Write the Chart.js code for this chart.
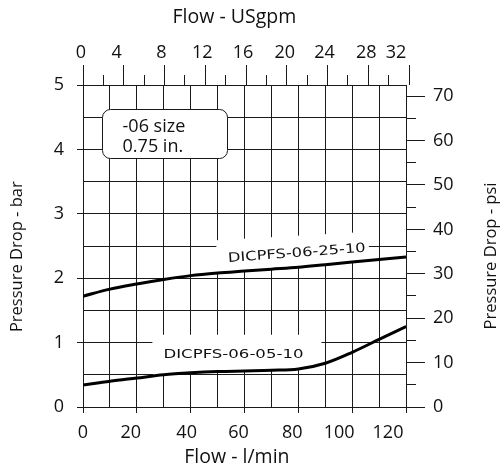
<!DOCTYPE html>
<html>
<head>
<meta charset="utf-8">
<script src="https://cdn.jsdelivr.net/npm/chart.js@4.4.1/dist/chart.umd.min.js"></script>
<style>
html,body{margin:0;padding:0;background:#fff;overflow:hidden}
#wrap{width:503px;height:471px;position:relative}
</style>
</head>
<body>
<div id="wrap"><canvas id="c" width="503" height="471"></canvas></div>
<script>
// ---- data ----
const flowLpm = [0, 10, 20, 30, 40, 50, 60, 70, 80, 90, 100, 110, 120];
const dp25 = [1.72, 1.83, 1.91, 1.98, 2.04, 2.08, 2.11, 2.14, 2.17, 2.21, 2.25, 2.29, 2.33];
const dp05 = [0.34, 0.40, 0.45, 0.50, 0.53, 0.55, 0.56, 0.57, 0.59, 0.68, 0.85, 1.05, 1.25];
const seriesNames = ['DICPFS-06-25-10', 'DICPFS-06-05-10'];
const barTicks = [0, 1, 2, 3, 4, 5];
const psiTicks = [0, 10, 20, 30, 40, 50, 60, 70];
const lpmTicks = [0, 20, 40, 60, 80, 100, 120];
const gpmTicks = [0, 4, 8, 12, 16, 20, 24, 28, 32];
const sizeNote = ['-06 size', '0.75 in.'];
const axisTitles = {x: 'Flow - l/min', xTop: 'Flow - USgpm', y: 'Pressure Drop - bar', yPsi: 'Pressure Drop - psi'};

const LPM_PER_GPM = 3.78541;
const PSI_PER_BAR = 14.5038;

const FONT = "'Open Sans', 'DejaVu Sans', sans-serif";
const INK = '#111111';
const GRID = '#1a1a1a';
const CLEAR = 'rgba(0,0,0,0)';

function range(a, b, s) { const r = []; for (let v = a; v <= b + 1e-9; v += s) r.push(Math.round(v * 1000) / 1000); return r; }
function has(list, v) { return list.some(t => Math.abs(t - v) < 1e-6); }
function interp(xs, ys, x) {
  for (let i = 0; i < xs.length - 1; i++) {
    if (x >= xs[i] && x <= xs[i + 1]) { const t = (x - xs[i]) / (xs[i + 1] - xs[i]); return ys[i] + t * (ys[i + 1] - ys[i]); }
  }
  return x < xs[0] ? ys[0] : ys[ys.length - 1];
}

// label placement (data units)
const labelSpecs = [
  {text: seriesNames[0], ys: dp25, x: 79.4, y: 2.41, angle: -4.3, width: 138,
   box: {x0: 49.5, x1: 106.2, top0: 2.59, top1: 2.72}},
  {text: seriesNames[1], ys: dp05, x: 55.9, y: 0.84, angle: 0, width: 140,
   box: {x0: 25.7, x1: 88.6, top0: 1.12, top1: 1.12}}
];
const noteBox = {x0: 6.9, x1: 53.2, y0: 4.63, y1: 3.87};

// small hand-drawn offsets of tick labels in the original (px, style only)
const labelNudge = {
  x: {'20': -6, '40': -4, '60': -6, '80': -6, '100': -13, '120': -18},
  xTop: {'0': -2, '4': -7, '8': -3, '12': -3, '16': -3, '20': -2, '24': -3, '28': -2, '32': -13}
};

const annotate = {
  id: 'annotate',
  beforeDraw(chart) {
    Object.keys(labelNudge).forEach(id => {
      const sc = chart.scales[id];
      if (!sc || typeof sc.getLabelItems !== 'function') return;
      const items = sc.getLabelItems();
      if (!items || items.__nudged) return;
      items.forEach(it => {
        const d = labelNudge[id][String(it.label)];
        if (d && it.options && it.options.translation) it.options.translation[0] += d;
      });
      items.__nudged = true;
    });
  },
  beforeDatasetsDraw(chart) {
    const {ctx, scales: {x, y}} = chart;
    ctx.save();
    ctx.fillStyle = '#ffffff';
    labelSpecs.forEach(s => {
      const b = s.box;
      ctx.beginPath();
      ctx.moveTo(x.getPixelForValue(b.x0), y.getPixelForValue(b.top0));
      ctx.lineTo(x.getPixelForValue(b.x1), y.getPixelForValue(b.top1));
      for (let v = b.x1; v >= b.x0 - 1e-9; v -= 0.5) {
        ctx.lineTo(x.getPixelForValue(v), y.getPixelForValue(interp(flowLpm, s.ys, v)));
      }
      ctx.closePath();
      ctx.fill();
    });
    ctx.restore();
  },
  afterDatasetsDraw(chart) {
    const {ctx, scales: {x, y}} = chart;
    ctx.save();
    labelSpecs.forEach(s => {
      ctx.save();
      ctx.translate(x.getPixelForValue(s.x), y.getPixelForValue(s.y));
      ctx.rotate(s.angle * Math.PI / 180);
      ctx.font = "13px 'DejaVu Sans', sans-serif";
      const w = ctx.measureText(s.text).width;
      ctx.scale(s.width / w, 1);
      ctx.fillStyle = INK;
      ctx.textAlign = 'center';
      ctx.textBaseline = 'alphabetic';
      ctx.fillText(s.text, 0, 5);
      ctx.restore();
    });
    const bx0 = x.getPixelForValue(noteBox.x0), bx1 = x.getPixelForValue(noteBox.x1);
    const by0 = y.getPixelForValue(noteBox.y0), by1 = y.getPixelForValue(noteBox.y1);
    ctx.beginPath();
    ctx.roundRect(Math.round(bx0) + 0.5, Math.round(by0) + 0.5, Math.round(bx1 - bx0), Math.round(by1 - by0), 8);
    ctx.fillStyle = '#ffffff';
    ctx.fill();
    ctx.lineWidth = 1;
    ctx.strokeStyle = GRID;
    ctx.stroke();
    ctx.fillStyle = INK;
    ctx.font = '18px ' + FONT;
    ctx.textAlign = 'left';
    ctx.textBaseline = 'middle';
    ctx.fillText(sizeNote[0], bx0 + 21, by0 + 18);
    ctx.fillText(sizeNote[1], bx0 + 21, by0 + 38);
    ctx.restore();
  },
  afterDraw(chart) {
    // right-hand axis title, reading bottom-to-top like the left one
    const {ctx} = chart;
    const sc = chart.scales.yPsi;
    ctx.save();
    ctx.translate(sc.right - 12, (sc.top + sc.bottom) / 2 + 10);
    ctx.rotate(-Math.PI / 2);
    ctx.font = '16.5px ' + FONT;
    ctx.fillStyle = INK;
    ctx.textAlign = 'center';
    ctx.textBaseline = 'middle';
    ctx.fillText(axisTitles.yPsi, 0, 0);
    ctx.restore();
  }
};

const tickFont = {family: FONT, size: 18};
const hTitleFont = {family: FONT, size: 19.5};
const vTitleFont = {family: FONT, size: 16.5};

new Chart(document.getElementById('c'), {
  type: 'line',
  data: {
    datasets: [
      {label: seriesNames[0], data: flowLpm.map((v, i) => ({x: v, y: dp25[i]})),
       borderColor: '#000', borderWidth: 3, pointRadius: 0, fill: false,
       cubicInterpolationMode: 'monotone', xAxisID: 'x', yAxisID: 'y'},
      {label: seriesNames[1], data: flowLpm.map((v, i) => ({x: v, y: dp05[i]})),
       borderColor: '#000', borderWidth: 3, pointRadius: 0, fill: false,
       cubicInterpolationMode: 'monotone', xAxisID: 'x', yAxisID: 'y'}
    ]
  },
  options: {
    responsive: false, animation: false, devicePixelRatio: 1,
    layout: {padding: 0},
    plugins: {legend: {display: false}, tooltip: {enabled: false}},
    scales: {
      x: {
        type: 'linear', position: 'bottom', min: 0, max: 120,
        afterBuildTicks: s => { s.ticks = range(0, 120, 10).map(v => ({value: v})); },
        ticks: {autoSkip: false, maxRotation: 0, padding: 9, color: INK, font: tickFont,
                callback: v => has(lpmTicks, v) ? String(v) : ''},
        grid: {color: GRID, lineWidth: 1, tickLength: 6,
               tickColor: c => (c.tick && has(lpmTicks, c.tick.value)) ? GRID : CLEAR},
        border: {color: GRID, width: 1},
        title: {display: true, text: axisTitles.x + '   ', color: INK, font: hTitleFont, padding: {top: 0, bottom: 2}},
        afterFit: s => { s.height = 64; }
      },
      xTop: {
        type: 'linear', position: 'top', min: 0, max: 120 / LPM_PER_GPM,
        afterBuildTicks: s => { s.ticks = range(0, 32, 2).map(v => ({value: v})); },
        ticks: {autoSkip: false, maxRotation: 0, padding: 1, color: INK, font: tickFont,
                callback: v => has(gpmTicks, v) ? String(v) : ''},
        grid: {drawOnChartArea: false, color: GRID, lineWidth: 1, tickLength: 20,
               tickBorderDash: c => (c.tick && has(gpmTicks, c.tick.value)) ? [] : [0, 10, 10, 100]},
        border: {color: GRID, width: 1},
        title: {display: true, text: axisTitles.xTop + '    ', color: INK, font: hTitleFont, padding: {top: 6, bottom: 0}},
        afterFit: s => { s.height = 85; }
      },
      y: {
        type: 'linear', position: 'left', min: 0, max: 5,
        afterBuildTicks: s => { s.ticks = range(0, 5, 0.5).map(v => ({value: v})); },
        ticks: {autoSkip: false, padding: 13, color: INK, font: tickFont,
                callback: v => has(barTicks, v) ? String(v) : ''},
        grid: {color: GRID, lineWidth: 1, tickLength: 6,
               tickColor: c => (c.tick && has(barTicks, c.tick.value)) ? GRID : CLEAR},
        border: {color: GRID, width: 1},
        title: {display: true, text: axisTitles.y + '     ', color: INK, font: vTitleFont, padding: {top: 7, bottom: 0}},
        afterFit: s => { s.width = 83; }
      },
      yPsi: {
        type: 'linear', position: 'right', min: 0, max: 5 * PSI_PER_BAR,
        afterBuildTicks: s => { s.ticks = range(0, 70, 5).map(v => ({value: v})); },
        ticks: {autoSkip: false, padding: 8, color: INK, font: tickFont,
                callback: v => has(psiTicks, v) ? String(v) : ''},
        grid: {drawOnChartArea: false, color: GRID, lineWidth: 1, tickLength: 19,
               tickBorderDash: c => (c.tick && has(psiTicks, c.tick.value)) ? [] : [9, 100]},
        border: {color: GRID, width: 1},
        title: {display: false, text: axisTitles.yPsi},
        afterFit: s => { s.width = 97; }
      }
    }
  },
  plugins: [annotate]
});
</script>
</body>
</html>
